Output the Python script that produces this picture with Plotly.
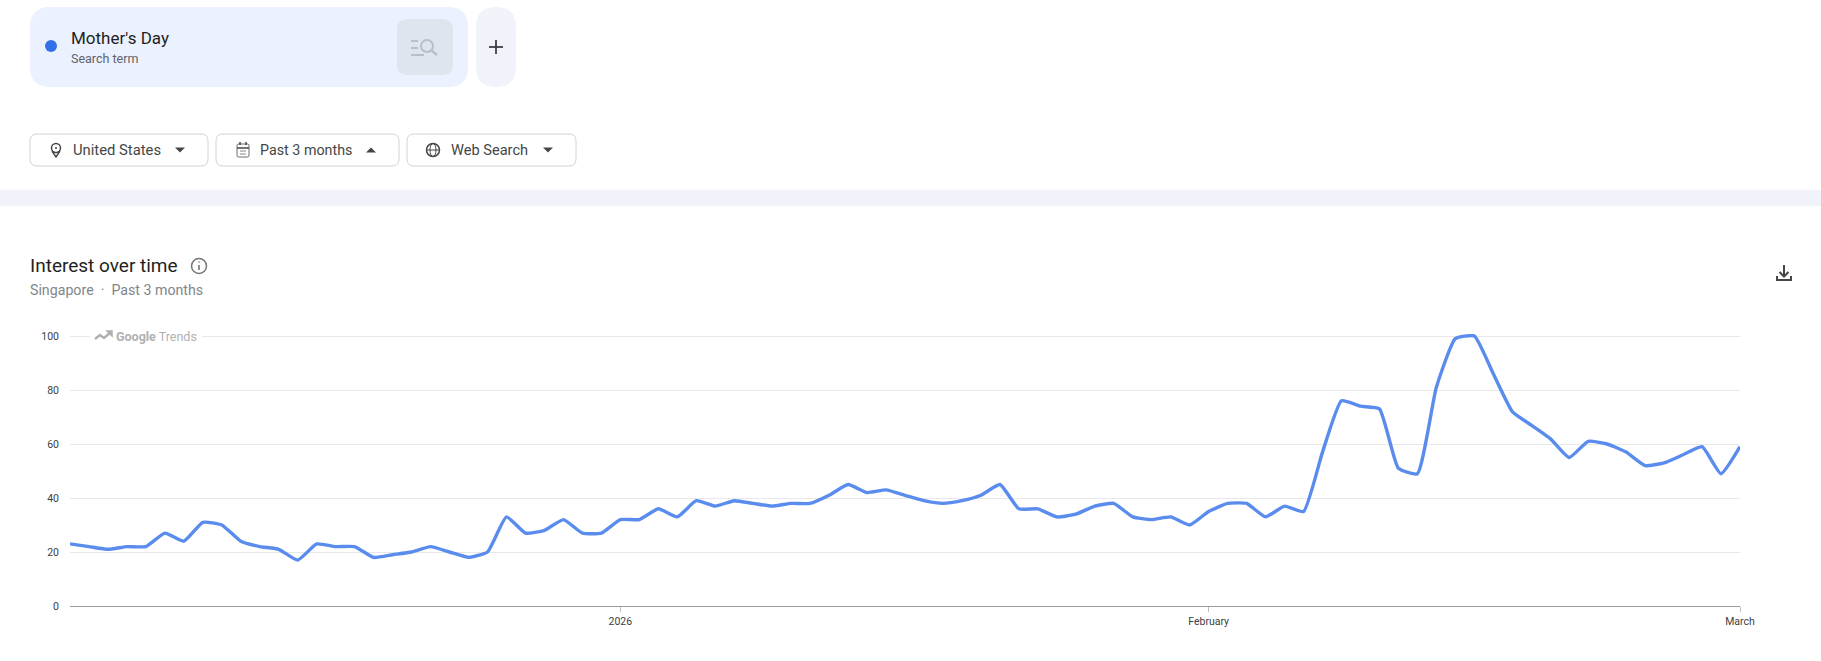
import pandas as pd
import plotly.graph_objects as go

W = 1821
H = 661

start_date = "2025-12-03"
interest = [
    23, 22, 21, 22, 22, 27, 24, 31, 30, 24, 22, 21, 17, 23, 22, 22, 18, 19, 20, 22,
    20, 18, 20, 33, 27, 28, 32, 27, 27, 32, 32, 36, 33, 39, 37, 39, 38, 37, 38, 38,
    41, 45, 42, 43, 41, 39, 38, 39, 41, 45, 36, 36, 33, 34, 37, 38, 33, 32, 33, 30,
    35, 38, 38, 33, 37, 35, 57, 76, 74, 73, 51, 49, 81, 99, 100, 86, 72, 67, 62, 55,
    61, 60, 57, 52, 53, 56, 59, 49, 59,
]
dates = pd.date_range(start_date, periods=len(interest), freq="D")

y_ticks = [0, 20, 40, 60, 80, 100]
x_tick_dates = ["2026-01-01", "2026-02-01", "2026-03-01"]
x_tick_labels = ["2026", "February", "March"]

FONT = "Roboto, sans-serif"
INK = "#1f1f1f"
GREY = "#5f6368"


# everything outside the plot is placed in screen pixels
def px(x):
    return x / W


def py(y):
    return 1 - y / H


def rounded(x0, y0, x1, y1, r, fill, line=None):
    a, b, c, d = px(x0), py(y0), px(x1), py(y1)
    rx, ry = r / W, r / H
    path = (
        f"M{a + rx},{b} L{c - rx},{b} Q{c},{b} {c},{b - ry} L{c},{d + ry} Q{c},{d} {c - rx},{d} "
        f"L{a + rx},{d} Q{a},{d} {a},{d + ry} L{a},{b - ry} Q{a},{b} {a + rx},{b} Z"
    )
    return dict(type="path", path=path, xref="paper", yref="paper", fillcolor=fill,
                line=dict(color=line or fill, width=0.8 if line else 0), layer="above")


def seg(points, color, width=1.5, fill=None, close=False):
    path = "M" + " L".join(f"{px(x)},{py(y)}" for x, y in points)
    if close:
        path += " Z"
    return dict(type="path", path=path, xref="paper", yref="paper", layer="above",
                fillcolor=fill or "rgba(0,0,0,0)", line=dict(color=color, width=width))


def circle(cx, cy, r, color=None, fill=None, width=1.5):
    return dict(type="circle", xref="paper", yref="paper", layer="above",
                x0=px(cx - r), x1=px(cx + r), y0=py(cy + r), y1=py(cy - r),
                fillcolor=fill or "rgba(0,0,0,0)",
                line=dict(color=color or fill, width=width if color else 0))


def label(x, y, text, size, color=INK, anchor="left"):
    return dict(x=px(x), y=py(y), xref="paper", yref="paper", text=text, showarrow=False,
                xanchor=anchor, yanchor="middle", align=anchor,
                font=dict(family=FONT, size=size, color=color))


def caret(cx, cy, up=False):
    d = -2.5 if up else 2.5
    return seg([(cx - 5, cy - d), (cx + 5, cy - d), (cx, cy + d)], "#444746", 0, "#444746", True)


shapes = [
    # search term card
    rounded(30, 7, 468, 87, 20, "#ebf1fe"),
    circle(51, 46, 6, fill="#3371e8"),
    rounded(397, 19, 453, 75, 11, "#dfe5ef"),
    seg([(411, 41), (418, 41)], "#b9bfc9", 2),
    seg([(411, 48), (418, 48)], "#b9bfc9", 2),
    seg([(411, 55), (424, 55)], "#b9bfc9", 2),
    circle(427, 46, 6, color="#b9bfc9", width=2),
    seg([(431, 50), (437, 55)], "#b9bfc9", 2.5),
    rounded(476, 7, 516, 87, 20, "#f0f3f9"),
    seg([(489, 47), (503, 47)], "#3c4043", 1.8),
    seg([(496, 40), (496, 54)], "#3c4043", 1.8),
    # filter buttons
    rounded(30, 134, 208, 166, 7, "#ffffff", "#c7c9cc"),
    rounded(216, 134, 399, 166, 7, "#ffffff", "#c7c9cc"),
    rounded(407, 134, 576, 166, 7, "#ffffff", "#c7c9cc"),
    circle(56, 148, 4.5, color="#444746"),
    seg([(52, 151), (56, 157), (60, 151)], "#444746", 1.5),
    circle(56, 148, 1, fill="#444746"),
    caret(180, 150),
    rounded(237, 144, 249, 157, 1.5, "#ffffff", "#444746"),
    seg([(237, 148), (249, 148)], "#444746", 1.5),
    seg([(240, 142), (240, 145)], "#444746", 1.5),
    seg([(246, 142), (246, 145)], "#444746", 1.5),
    seg([(240, 151), (246, 151)], "#888888", 1),
    seg([(240, 154), (246, 154)], "#888888", 1),
    caret(371, 150, up=True),
    circle(433, 150, 6.5, color="#444746"),
    seg([(426.5, 150), (439.5, 150)], "#444746", 1),
    dict(type="circle", xref="paper", yref="paper", layer="above", x0=px(430), x1=px(436),
         y0=py(156.5), y1=py(143.5), line=dict(color="#444746", width=1)),
    caret(548, 150),
    # band between the header and the chart card
    dict(type="rect", xref="paper", yref="paper", x0=0, x1=1, y0=py(206), y1=py(190),
         fillcolor="#f0f3f9", line=dict(width=0), layer="above"),
    # info icon
    circle(199, 266, 7.5, color="#757575"),
    seg([(199, 265), (199, 270)], "#757575", 1.6),
    circle(199, 262, 0.8, fill="#757575"),
    # download icon
    seg([(1784, 265), (1784, 276)], "#444746", 2),
    seg([(1779.5, 272), (1784, 276.5), (1788.5, 272)], "#444746", 2),
    seg([(1777, 276), (1777, 280), (1791, 280), (1791, 276)], "#444746", 2),
    # Google Trends watermark over the top gridline
    dict(type="rect", xref="paper", yref="paper", x0=px(90), x1=px(202), y0=py(344), y1=py(328),
         fillcolor="#ffffff", line=dict(width=0), layer="above"),
    seg([(95, 339), (100, 335), (104, 338), (111, 332)], "#b0b0b0", 2.5),
    seg([(107, 331), (112, 331), (112, 336)], "#b0b0b0", 1.5, "#b0b0b0", True),
]

annotations = [
    label(69, 38, "Mother's Day", 17),
    label(69, 58.5, "Search term", 12.5, GREY),
    label(71, 150, "United States", 14.8, "#444746"),
    label(258, 150, "Past 3 months", 14.3, "#444746"),
    label(449, 150, "Web Search", 14.6, "#444746"),
    label(28, 266, "Interest over time", 19),
    label(28, 290, "Singapore  ·  Past 3 months", 14.2, "#80868b"),
    label(114, 336, "<b>Google</b> Trends", 12.5, "#b0b0b0"),
]

fig = go.Figure(
    go.Scatter(
        x=dates,
        y=interest,
        mode="lines",
        line=dict(color="#5a8cee", width=3.4, shape="spline", smoothing=0.45),
        cliponaxis=False,
        hoverinfo="skip",
    )
)

fig.update_layout(
    width=W,
    height=H,
    margin=dict(l=0, r=0, t=0, b=0),
    paper_bgcolor="#ffffff",
    plot_bgcolor="#ffffff",
    showlegend=False,
    shapes=shapes,
    annotations=annotations,
    font=dict(family=FONT),
)
fig.update_xaxes(
    automargin=False,
    domain=[px(70), px(1740)],
    range=[dates[0], dates[-1]],
    tickvals=x_tick_dates,
    ticktext=x_tick_labels,
    ticks="outside",
    ticklen=5,
    tickcolor="#bdbdbd",
    showgrid=False,
    showline=True,
    linecolor="#9a9a9a",
    linewidth=1,
    tickfont=dict(size=10.5, color="#3c4043"),
)
# a little headroom above 100 so the top gridline is kept
fig.update_yaxes(
    automargin=False,
    domain=[py(606), py(334)],
    range=[0, 100.74],
    tickvals=y_ticks,
    ticks="",
    ticklabelstandoff=10,
    showgrid=True,
    gridcolor="#e8e8e8",
    gridwidth=1,
    zeroline=False,
    showline=False,
    tickfont=dict(size=10.5, color="#3c4043"),
)

fig.write_html(
    "out.html",
    config=dict(displayModeBar=False),
    post_script="document.body.style.margin='0';document.body.style.overflow='hidden';",
)
